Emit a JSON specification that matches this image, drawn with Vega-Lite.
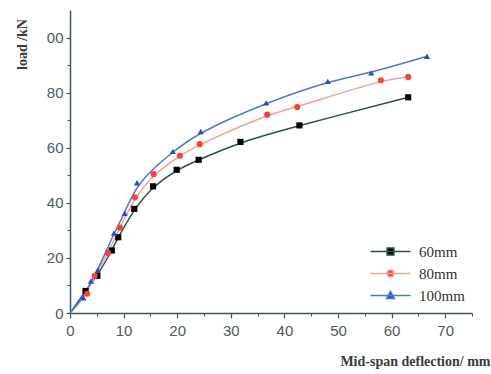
{
  "$schema": "https://vega.github.io/schema/vega-lite/v6.json",
  "width": 402,
  "height": 303,
  "autosize": "none",
  "padding": {"left": 70, "top": 10, "right": 19, "bottom": 61},
  "background": "white",
  "config": {"view": {"stroke": null}},
  "data": {"values": [
    {"series": "60mm", "x": 0, "y": 0},
    {"series": "60mm", "x": 2.9, "y": 8},
    {"series": "60mm", "x": 5.1, "y": 13.5},
    {"series": "60mm", "x": 7.8, "y": 22.7},
    {"series": "60mm", "x": 9.0, "y": 27.5},
    {"series": "60mm", "x": 12.0, "y": 37.8},
    {"series": "60mm", "x": 15.5, "y": 46},
    {"series": "60mm", "x": 19.9, "y": 52},
    {"series": "60mm", "x": 24.0, "y": 55.6},
    {"series": "60mm", "x": 31.8, "y": 62.1},
    {"series": "60mm", "x": 42.8, "y": 68.1},
    {"series": "60mm", "x": 63.1, "y": 78.3},
    {"series": "80mm", "x": 0, "y": 0},
    {"series": "80mm", "x": 3.2, "y": 7},
    {"series": "80mm", "x": 4.6, "y": 13.5},
    {"series": "80mm", "x": 7.1, "y": 21.8},
    {"series": "80mm", "x": 9.3, "y": 31},
    {"series": "80mm", "x": 12.1, "y": 42},
    {"series": "80mm", "x": 15.6, "y": 50.4},
    {"series": "80mm", "x": 20.5, "y": 57.1},
    {"series": "80mm", "x": 24.2, "y": 61.3},
    {"series": "80mm", "x": 36.8, "y": 72},
    {"series": "80mm", "x": 42.4, "y": 74.8},
    {"series": "80mm", "x": 58.0, "y": 84.5},
    {"series": "80mm", "x": 63.1, "y": 85.7},
    {"series": "100mm", "x": 0, "y": 0},
    {"series": "100mm", "x": 2.5, "y": 5.5},
    {"series": "100mm", "x": 3.9, "y": 11.6},
    {"series": "100mm", "x": 5.2, "y": 15.6},
    {"series": "100mm", "x": 8.2, "y": 29},
    {"series": "100mm", "x": 10.2, "y": 36.2},
    {"series": "100mm", "x": 12.5, "y": 47.3},
    {"series": "100mm", "x": 19.2, "y": 58.7},
    {"series": "100mm", "x": 24.4, "y": 65.9},
    {"series": "100mm", "x": 36.6, "y": 76.3},
    {"series": "100mm", "x": 48.1, "y": 84.1},
    {"series": "100mm", "x": 56.2, "y": 87.2},
    {"series": "100mm", "x": 66.6, "y": 93.2}
  ]},
  "resolve": {"scale": {"color": "independent"}, "axis": {"x": "independent", "y": "independent"}},
  "layer": [
    {
      "mark": {"type": "line", "interpolate": "basis", "strokeWidth": 1.5},
      "encoding": {
        "x": {"field": "x", "type": "quantitative", "scale": {"domain": [0, 75], "nice": false},
          "axis": {"orient": "bottom", "values": [0, 10, 20, 30, 40, 50, 60, 70], "grid": false, "domainColor": "#3c5858", "domainWidth": 1.5, "tickColor": "#3c5858", "tickSize": 5, "tickWidth": 1.2, "labelFont": "Liberation Sans", "labelFontSize": 15, "labelColor": "#505a5e", "labelPadding": 5, "labelFlush": false,
            "title": "Mid-span deflection/ mm", "titleFont": "Liberation Serif", "titleFontSize": 14, "titleFontWeight": "bold", "titleColor": "#3a3a3a", "titleAnchor": "end", "titleAlign": "right", "titleX": 420, "titleY": 52, "titleBaseline": "alphabetic"}},
        "y": {"field": "y", "type": "quantitative", "scale": {"domain": [0, 110], "nice": false},
          "axis": {"orient": "left", "values": [0, 20, 40, 60, 80, 100], "labelExpr": "datum.value == 100 ? '00' : datum.label", "grid": false, "domainColor": "#3c5858", "domainWidth": 1.5, "tickColor": "#3c5858", "tickSize": 4, "tickWidth": 1.2, "labelFont": "Liberation Sans", "labelFontSize": 15, "labelColor": "#505a5e", "labelPadding": 3,
            "title": "load /kN", "titleFont": "Liberation Serif", "titleFontSize": 14, "titleFontWeight": "bold", "titleColor": "#3a3a3a", "titleAngle": 270, "titleAlign": "center", "titleBaseline": "middle", "titleX": -48, "titleY": 34}},
        "color": {"field": "series", "type": "nominal",
          "scale": {"domain": ["60mm", "80mm", "100mm"], "range": ["#2f4f4f", "#f5a195", "#4a78d8"]},
          "legend": {"orient": "none", "legendX": 313, "legendY": 234, "title": null, "symbolSize": 64, "labelOffset": 21, "rowPadding": 6, "padding": 0,
            "labelFont": "Liberation Serif", "labelFontSize": 15, "labelColor": "#333333",
            "encode": {"symbols": {"update": {
              "shape": {"signal": "datum.value == '60mm' ? 'M-5,0L5,0M-0.85,-0.85L0.85,-0.85L0.85,0.85L-0.85,0.85Z' : datum.value == '80mm' ? 'M-5,0L5,0M-0.85,0A0.85,0.85 0 1,0 0.85,0A0.85,0.85 0 1,0 -0.85,0Z' : 'M-5,0L5,0M0,-1.05L1,0.75L-1,0.75Z'"},
              "fill": {"signal": "datum.value == '60mm' ? '#000000' : datum.value == '80mm' ? '#f2453a' : '#2850b0'"},
              "strokeWidth": {"value": 1.5},
              "opacity": {"value": 1}
            }}}}
        }
      }
    },
    {
      "transform": [{"filter": "datum.x > 0"}],
      "mark": {"type": "point", "filled": true, "opacity": 1, "size": 38},
      "encoding": {
        "x": {"field": "x", "type": "quantitative", "scale": {"domain": [0, 75], "nice": false},
          "axis": {"orient": "bottom", "values": [5, 15, 25, 35, 45, 55, 65, 75], "labels": false, "title": null, "grid": false, "domain": false, "tickColor": "#3c5858", "tickSize": 3, "tickWidth": 1}},
        "y": {"field": "y", "type": "quantitative", "scale": {"domain": [0, 110], "nice": false},
          "axis": {"orient": "left", "values": [10, 30, 50, 70, 90], "labels": false, "title": null, "grid": false, "domain": false, "tickColor": "#3c5858", "tickSize": 3, "tickWidth": 1}},
        "color": {"field": "series", "type": "nominal",
          "scale": {"domain": ["60mm", "80mm", "100mm"], "range": ["#000000", "#f2453a", "#2850b0"]}, "legend": null},
        "shape": {"field": "series", "type": "nominal",
          "scale": {"domain": ["60mm", "80mm", "100mm"], "range": ["square", "circle", "triangle-up"]}, "legend": null}
      }
    }
  ]
}
